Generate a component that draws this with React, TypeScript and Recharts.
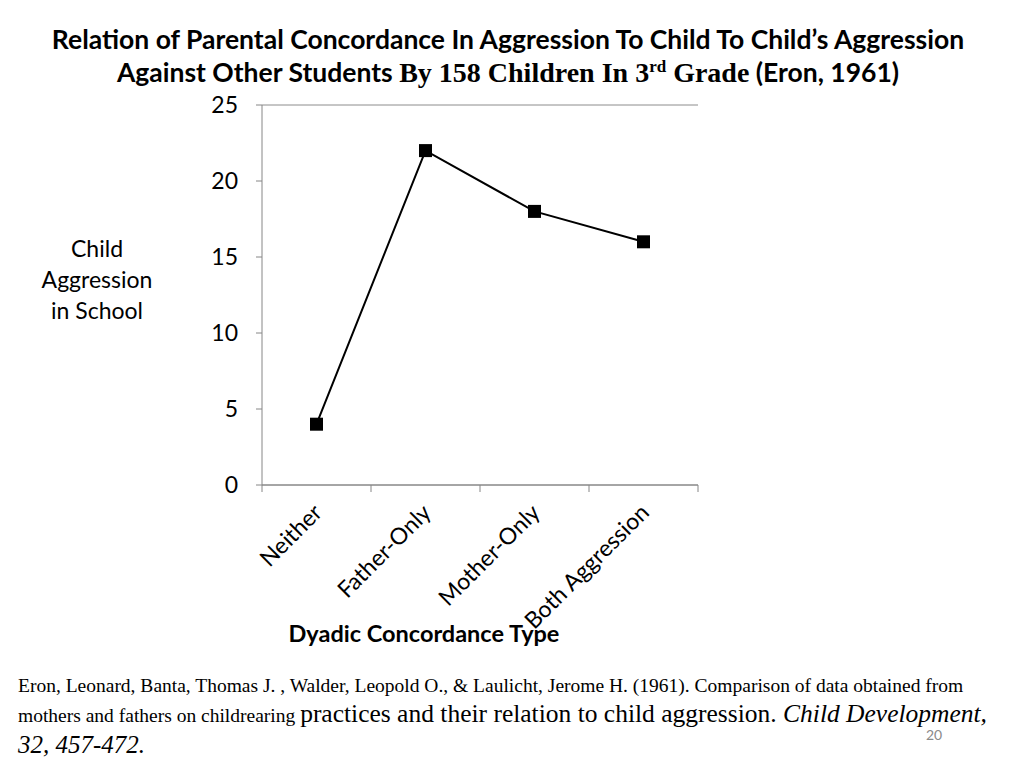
import React from "react";
import { LineChart, Line, XAxis, YAxis, CartesianGrid } from "recharts";

const categories = ["Neither", "Father-Only", "Mother-Only", "Both Aggression"];
const aggression = [4, 22, 18, 16];
const yTicks = [0, 5, 10, 15, 20, 25];

const data = categories.map((name, i) => ({ name, value: aggression[i] }));

const SANS = "Lato, 'Open Sans', sans-serif";
const SERIF = "'Liberation Serif', 'DejaVu Serif', serif";
const AXIS_GRAY = "#868686";
const BAND = 436 / categories.length;

const SquareDot = (props: any) => {
  const { cx, cy, index } = props;
  if (cx == null || cy == null) return null;
  return <rect key={`dot-${index}`} x={cx - 6.5} y={cy - 6.5} width={13} height={13} fill="#000" />;
};

const CategoryTick = (props: any) => {
  const { x, y, payload, index } = props;
  const ax = x + 7;
  const ay = y + 21;
  return (
    <g>
      <line x1={x - BAND / 2} y1={y - 8} x2={x - BAND / 2} y2={y - 1} stroke={AXIS_GRAY} />
      {index === categories.length - 1 && (
        <line x1={x + BAND / 2} y1={y - 8} x2={x + BAND / 2} y2={y - 1} stroke={AXIS_GRAY} />
      )}
      <text
        x={ax}
        y={ay}
        transform={`rotate(-45 ${ax} ${ay})`}
        textAnchor="end"
        fontSize={23}
        fontFamily={SANS}
        fill="#000"
      >
        {payload.value}
      </text>
    </g>
  );
};

function AggressionChart() {
  return (
    <div style={{ position: "absolute", left: 200, top: 90 }}>
      <LineChart
        width={520}
        height={570}
        data={data}
        margin={{ top: 15, right: 22, bottom: 0, left: 0 }}
      >
        <CartesianGrid vertical={false} stroke="#8c8c8c" />
        <XAxis
          dataKey="name"
          scale="band"
          interval={0}
          height={175}
          tickLine={false}
          axisLine={{ stroke: AXIS_GRAY }}
          tick={<CategoryTick />}
        />
        <YAxis
          yAxisId="left"
          width={62}
          domain={[0, 25]}
          ticks={yTicks}
          interval={0}
          tickSize={6}
          tickMargin={18}
          tickLine={{ stroke: AXIS_GRAY }}
          axisLine={{ stroke: AXIS_GRAY }}
          tick={{ fontSize: 23, fill: "#000", fontFamily: SANS }}
        />
        <YAxis
          yAxisId="right"
          orientation="right"
          width={0}
          domain={[0, 25]}
          tick={false}
          tickLine={false}
          axisLine={{ stroke: AXIS_GRAY }}
        />
        <Line
          yAxisId="left"
          type="linear"
          dataKey="value"
          stroke="#000"
          strokeWidth={2}
          dot={<SquareDot />}
          activeDot={false}
          isAnimationActive={false}
        />
      </LineChart>
    </div>
  );
}

export default function App() {
  return (
    <div
      style={{
        position: "absolute",
        left: 0,
        top: 0,
        width: 1024,
        height: 768,
        background: "#fff",
        fontFamily: SANS,
        color: "#000",
        overflow: "hidden",
      }}
    >
      <div
        style={{
          position: "absolute",
          left: 0,
          top: 23,
          width: 1016,
          textAlign: "center",
          fontWeight: 700,
          fontSize: 26.5,
          lineHeight: "33px",
          whiteSpace: "nowrap",
        }}
      >
        <div>Relation of Parental Concordance In Aggression To Child To Child’s Aggression</div>
        <div>
          Against Other Students{" "}
          <span style={{ fontFamily: SERIF, fontSize: 28 }}>
            By 158 Children In 3<sup style={{ fontSize: 17, lineHeight: 0 }}>rd</sup> Grade
          </span>{" "}
          (Eron, 1961)
        </div>
      </div>

      <div
        style={{
          position: "absolute",
          left: 22,
          top: 233,
          width: 150,
          textAlign: "center",
          fontSize: 23,
          lineHeight: "31px",
        }}
      >
        Child
        <br />
        Aggression
        <br />
        in School
      </div>

      <AggressionChart />

      <div
        style={{
          position: "absolute",
          left: 224,
          top: 619,
          width: 400,
          textAlign: "center",
          fontWeight: 700,
          fontSize: 23.5,
        }}
      >
        Dyadic Concordance Type
      </div>

      <div
        style={{
          position: "absolute",
          left: 18,
          top: 672,
          width: 1010,
          fontFamily: SERIF,
          fontSize: 19.5,
          lineHeight: "28px",
          whiteSpace: "nowrap",
        }}
      >
        <div>
          Eron, Leonard, Banta, Thomas J. , Walder, Leopold O., &amp; Laulicht, Jerome H. (1961). Comparison of data obtained from
        </div>
        <div>
          mothers and fathers on childrearing{" "}
          <span style={{ fontSize: 25.5 }}>
            practices and their relation to child aggression. <i>Child Development,</i>
          </span>
        </div>
        <div style={{ fontSize: 25, fontStyle: "italic", lineHeight: "30px" }}>32, 457-472.</div>
      </div>

      <div
        style={{
          position: "absolute",
          left: 926,
          top: 726,
          fontSize: 14,
          color: "#8a8a8a",
        }}
      >
        20
      </div>
    </div>
  );
}
